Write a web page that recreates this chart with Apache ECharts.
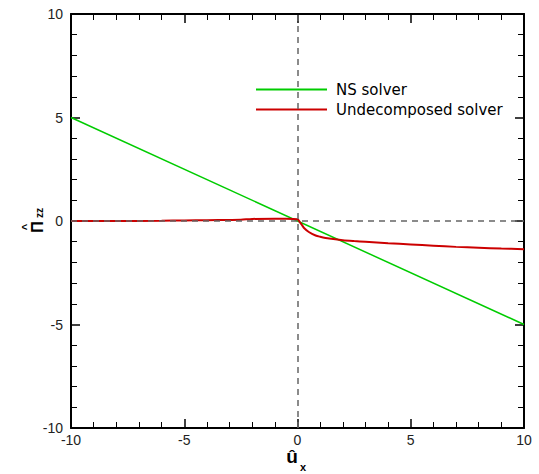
<!DOCTYPE html>
<html><head><meta charset="utf-8">
<script src="https://cdn.jsdelivr.net/npm/echarts@6/dist/echarts.min.js"></script>
<style>html,body{margin:0;padding:0;background:#fff}#c{width:539px;height:474px}</style>
</head><body><div id="c"></div>
<script>
const nsX = [-10, 10];
const nsY = [5, -5];
const udX = [-10, -8, -6, -5, -4, -3, -2.5, -2, -1, -0.5, 0, 0.1, 0.2, 0.3, 0.5, 0.8, 1, 1.4, 2, 2.5, 3, 4, 5, 6, 7, 8, 9, 10];
const udY = [0, 0, 0.01, 0.03, 0.04, 0.05, 0.06, 0.1, 0.11, 0.11, 0.08, -0.05, -0.2, -0.35, -0.53, -0.7, -0.76, -0.85, -0.93, -0.97, -1.0, -1.07, -1.13, -1.19, -1.25, -1.29, -1.33, -1.36];
const ticks = [-10, -5, 0, 5, 10];
const seriesNames = ['NS solver', 'Undecomposed solver'];

const chart = echarts.init(document.getElementById('c'), null, {renderer: 'svg'});
const zip = (a, b) => a.map((v, i) => [v, b[i]]);
const axisCommon = {
  min: ticks[0], max: ticks[ticks.length - 1], interval: ticks[1] - ticks[0],
  axisLine: {show: true, onZero: false, lineStyle: {color: '#000', width: 2}},
  axisTick: {show: true, inside: true, length: 9, lineStyle: {color: '#000', width: 1.5}},
  minorTick: {show: true, splitNumber: 5, length: 6, lineStyle: {color: '#000', width: 1}},
  splitLine: {show: false}
};
const labelStyle = {color: '#222', fontFamily: 'Liberation Sans, Arial', fontSize: 14};
const bold = (size) => ({fontFamily: 'Liberation Sans', fontSize: size, fontWeight: 'bold', fill: '#000', align: 'center', verticalAlign: 'middle'});
chart.setOption({
  animation: false,
  grid: {left: 71, top: 14, width: 453, height: 414, containLabel: false, outerBoundsMode: 'none'},
  xAxis: [
    Object.assign({type: 'value', position: 'bottom', axisLabel: Object.assign({margin: 5}, labelStyle)}, axisCommon),
    Object.assign({type: 'value', position: 'top', axisLabel: {show: false}}, axisCommon)
  ],
  yAxis: [
    Object.assign({type: 'value', position: 'left', axisLabel: Object.assign({margin: 8}, labelStyle)}, axisCommon),
    Object.assign({type: 'value', position: 'right', axisLabel: {show: false}}, axisCommon)
  ],
  legend: {
    show: true, orient: 'vertical', left: 251, top: 77, itemWidth: 71, itemHeight: 2, itemGap: 5,
    icon: 'rect',
    textStyle: {fontFamily: 'DejaVu Sans', fontSize: 15, color: '#000', padding: [0, 0, 0, 4]},
    data: seriesNames
  },
  series: [
    {
      name: seriesNames[0], type: 'line', data: zip(nsX, nsY), symbol: 'none',
      lineStyle: {color: '#00cc00', width: 1.5}, itemStyle: {color: '#00cc00'},
      markLine: {
        silent: true, symbol: 'none', label: {show: false},
        lineStyle: {color: '#666', type: [6, 5], width: 1.5},
        data: [{xAxis: 0}, {yAxis: 0}]
      }
    },
    {
      name: seriesNames[1], type: 'line', data: zip(udX, udY), symbol: 'none', smooth: 0.3,
      lineStyle: {color: '#cc0000', width: 2}, itemStyle: {color: '#cc0000'}
    }
  ],
  graphic: [
    {type: 'text', x: 292, y: 456, style: Object.assign({text: 'û'}, bold(19))},
    {type: 'text', x: 303, y: 467, style: Object.assign({text: 'x'}, bold(11))},
    {
      type: 'group', x: 37, y: 227, rotation: Math.PI / 2,
      children: [
        {type: 'text', x: 0, y: 0, style: Object.assign({text: 'Π'}, bold(16))},
        {type: 'text', x: 0, y: -11, style: Object.assign({text: '^'}, bold(11))},
        {type: 'text', x: 14, y: 2, style: Object.assign({text: 'zz'}, bold(10))}
      ]
    }
  ]
});
</script></body></html>
